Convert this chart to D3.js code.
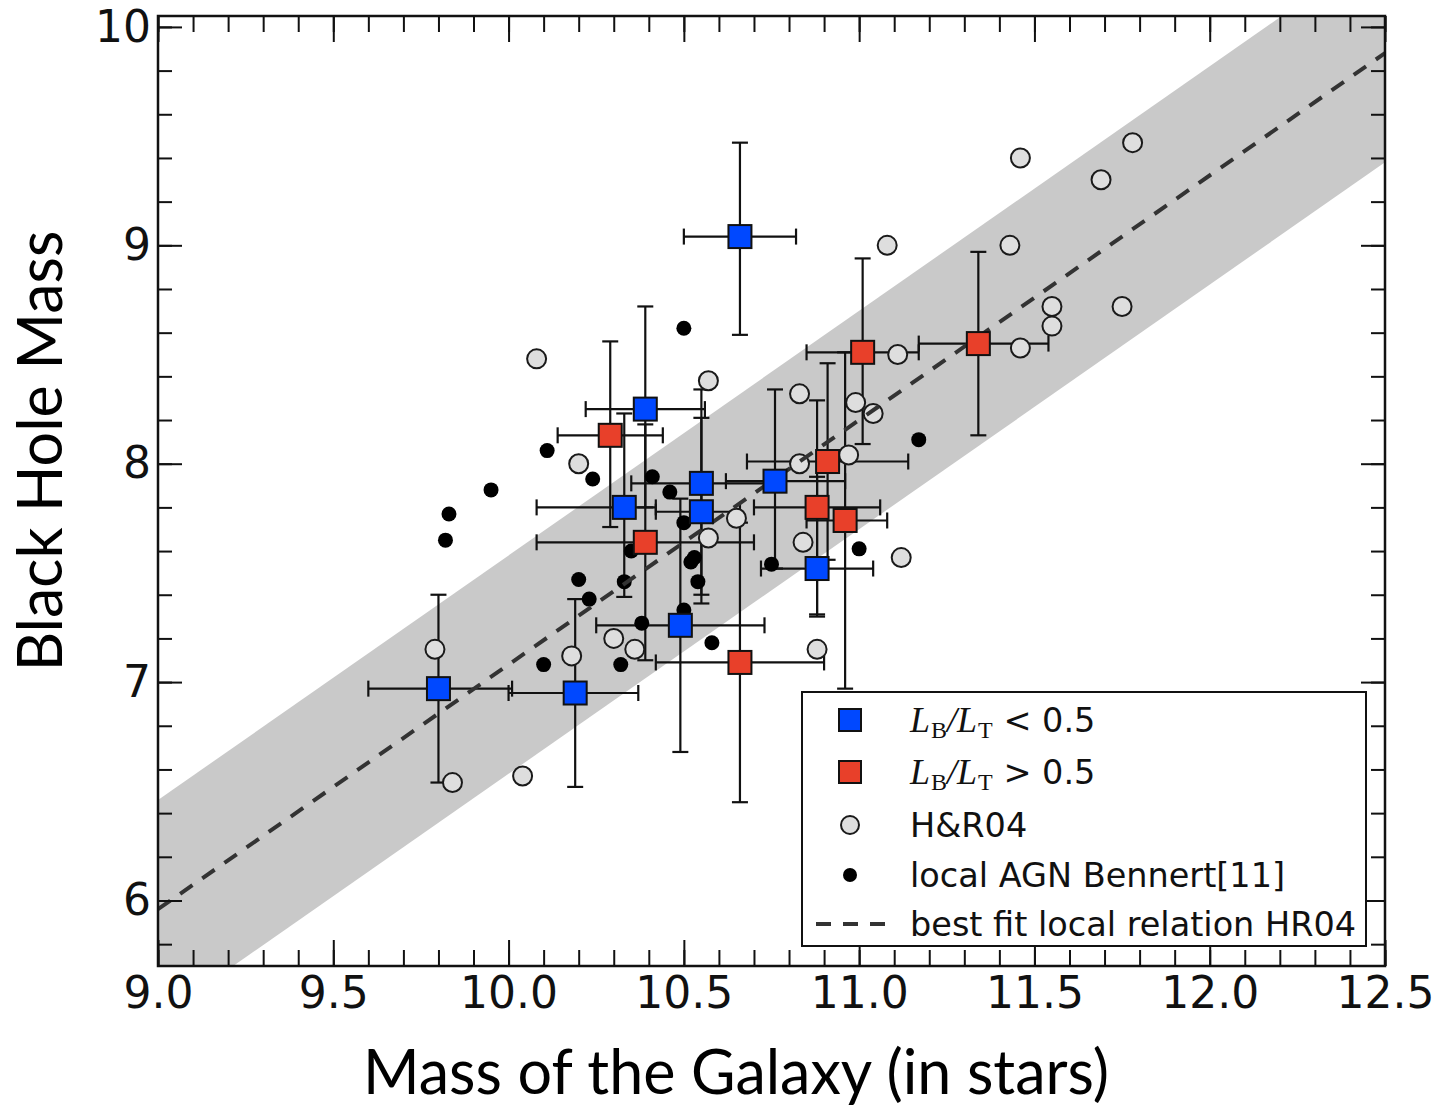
<!DOCTYPE html>
<html>
<head>
<meta charset="utf-8">
<script src="https://cdn.jsdelivr.net/npm/d3@7"></script>
<style>
  body { margin: 0; background: #fff; }
  svg { display: block; }
</style>
</head>
<body>
<svg></svg>
<script>
// bulge sample, L_B/L_T < 0.5
let blueX   = [10.66, 10.39, 10.33, 10.55, 10.55, 10.76, 10.88, 10.49, 9.80, 10.19]
let blueY   = [9.04, 8.25, 7.80, 7.91, 7.78, 7.92, 7.52, 7.26, 6.97, 6.95]
let blueXLo = [10.50, 10.22, 10.08, 10.35, 10.42, 10.62, 10.72, 10.25, 9.60, 10.00]
let blueXHi = [10.82, 10.56, 10.42, 10.74, 10.66, 10.96, 11.04, 10.73, 10.01, 10.37]
let blueYLo = [8.59, 7.80, 7.39, 7.36, 7.40, 7.52, 7.31, 6.68, 6.54, 6.52]
let blueYHi = [9.47, 8.72, 8.23, 8.34, 8.21, 8.34, 7.94, 7.84, 7.40, 7.38]

// L_B/L_T > 0.5
let redX   = [10.29, 10.39, 11.01, 11.34, 10.91, 10.88, 10.96, 10.66]
let redY   = [8.13, 7.64, 8.51, 8.55, 8.01, 7.80, 7.74, 7.09]
let redXLo = [10.14, 10.08, 10.85, 11.17, 10.68, 10.70, 10.85, 10.42]
let redXHi = [10.44, 10.70, 11.17, 11.54, 11.14, 11.06, 11.08, 10.90]
let redYLo = [7.71, 7.10, 8.09, 8.13, 7.56, 7.30, 6.97, 6.45]
let redYHi = [8.56, 8.18, 8.94, 8.97, 8.46, 8.29, 8.51, 7.73]

// H&R04
let hrX = [10.08, 10.57, 10.20, 10.65, 10.83, 10.99, 11.04, 10.97, 10.83, 10.57, 10.84, 11.12, 10.88, 10.30, 10.36,
           10.18, 9.79, 9.84, 10.04, 11.46, 11.78, 11.69, 11.08, 11.43, 11.55, 11.55, 11.75, 11.46, 11.11]
let hrY = [8.48, 8.38, 8.00, 7.75, 8.32, 8.28, 8.23, 8.04, 8.00, 7.66, 7.64, 7.57, 7.15, 7.20, 7.15,
           7.12, 7.15, 6.54, 6.57, 9.40, 9.47, 9.30, 9.00, 9.00, 8.72, 8.63, 8.72, 8.53, 8.50]

// local AGN Bennert
let agnX = [10.50, 10.11, 10.24, 9.95, 9.83, 9.82, 10.41, 10.46, 10.50, 10.35, 10.20, 10.23,
            10.33, 10.38, 10.10, 10.32, 10.53, 10.52, 10.54, 10.50, 10.58, 10.75, 11.00, 11.17]
let agnY = [8.62, 8.06, 7.93, 7.88, 7.77, 7.65, 7.94, 7.87, 7.73, 7.60, 7.47, 7.38,
            7.46, 7.27, 7.08, 7.08, 7.57, 7.55, 7.46, 7.33, 7.18, 7.54, 7.61, 8.11]

// best fit HR04: log M_BH = 8.20 + 1.12 (log M - 11), band +/- 0.5
let fitX = [9.0, 12.5]
let fitA = 8.20
let fitB = 1.12
let bandHalf = 0.5

let xTicks = [9.0, 9.5, 10.0, 10.5, 11.0, 11.5, 12.0, 12.5]
let yTicks = [6, 7, 8, 9, 10]

let legendLabels = ['H&R04', 'local AGN Bennert[11]', 'best fit local relation HR04']

let width = 1449
let height = 1109
let pLeft = 158, pRight = 1385, pTop = 16, pBottom = 966

let svg = d3.select('svg').attr('width', width).attr('height', height)

let xScale = d3.scaleLinear().domain([9.0, 12.5]).range([pLeft, pRight])
let yScale = d3.scaleLinear().domain([5.7, 10.05]).range([pBottom, pTop])

let fit = (x) => fitA + fitB * (x - 11)

svg.append('defs').append('clipPath').attr('id', 'plot')
    .append('rect').attr('x', pLeft).attr('y', pTop)
    .attr('width', pRight - pLeft).attr('height', pBottom - pTop)

let plot = svg.append('g').attr('clip-path', 'url(#plot)')

// shaded band
let bandArea = d3.area()
    .x(d => xScale(d))
    .y0(d => yScale(fit(d) - bandHalf))
    .y1(d => yScale(fit(d) + bandHalf))
plot.append('path').datum(fitX).attr('d', bandArea).attr('fill', '#c9c9c9')

let errs = (xs, ys, xl, xh, yl, yh) => xs.map((x, i) => ({x: x, y: ys[i], xl: xl[i], xh: xh[i], yl: yl[i], yh: yh[i]}))
let blue = errs(blueX, blueY, blueXLo, blueXHi, blueYLo, blueYHi)
let red = errs(redX, redY, redXLo, redXHi, redYLo, redYHi)

let drawErrors = (data) => {
    let g = plot.append('g').attr('stroke', '#111').attr('stroke-width', 2.2).attr('fill', 'none')
    let cap = 8
    data.forEach(d => {
        let cx = xScale(d.x), cy = yScale(d.y)
        g.append('line').attr('x1', xScale(d.xl)).attr('x2', xScale(d.xh)).attr('y1', cy).attr('y2', cy)
        g.append('line').attr('x1', cx).attr('x2', cx).attr('y1', yScale(d.yl)).attr('y2', yScale(d.yh))
        ;[d.xl, d.xh].forEach(v => g.append('line').attr('x1', xScale(v)).attr('x2', xScale(v)).attr('y1', cy - cap).attr('y2', cy + cap))
        ;[d.yl, d.yh].forEach(v => g.append('line').attr('y1', yScale(v)).attr('y2', yScale(v)).attr('x1', cx - cap).attr('x2', cx + cap))
    })
}
drawErrors(red)
drawErrors(blue)

// H&R04 open circles
plot.append('g').selectAll('circle').data(hrX).join('circle')
    .attr('cx', d => xScale(d)).attr('cy', (d, i) => yScale(hrY[i])).attr('r', 9.5)
    .attr('fill', '#dedede').attr('stroke', '#1a1a1a').attr('stroke-width', 2)

// local AGN
plot.append('g').selectAll('circle').data(agnX).join('circle')
    .attr('cx', d => xScale(d)).attr('cy', (d, i) => yScale(agnY[i])).attr('r', 7.5)
    .attr('fill', '#000')

// fit line
plot.append('path').datum(fitX)
    .attr('d', d3.line().x(d => xScale(d)).y(d => yScale(fit(d))))
    .attr('stroke', '#333').attr('stroke-width', 4).attr('stroke-dasharray', '15,12').attr('fill', 'none')

let sq = 23
let drawSquares = (data, color) => {
    plot.append('g').selectAll('rect').data(data).join('rect')
        .attr('x', d => xScale(d.x) - sq / 2).attr('y', d => yScale(d.y) - sq / 2)
        .attr('width', sq).attr('height', sq)
        .attr('fill', color).attr('stroke', '#111').attr('stroke-width', 2)
}
drawSquares(red, '#e8402a')
drawSquares(blue, '#0048ff')

// axes, ticks inward on all four sides
let xMinor = d3.range(9.0, 12.501, 0.1)
let yMinor = d3.range(5.8, 10.001, 0.2)
let tickFont = 'DejaVu Sans'

let styleAxis = (g) => {
    g.select('.domain').remove()
    g.selectAll('line').attr('stroke', '#111').attr('stroke-width', 2)
    g.selectAll('text').attr('font-family', tickFont).attr('font-size', 44).attr('fill', '#111')
}

svg.append('g').attr('transform', 'translate(0,' + pBottom + ')')
    .call(d3.axisBottom(xScale).tickValues(xMinor).tickSize(-16).tickFormat('')).call(styleAxis)
svg.append('g').attr('transform', 'translate(0,' + pBottom + ')')
    .call(d3.axisBottom(xScale).tickValues(xTicks).tickSize(-26).tickPadding(11).tickFormat(d3.format('.1f'))).call(styleAxis)
svg.append('g').attr('transform', 'translate(0,' + pTop + ')')
    .call(d3.axisTop(xScale).tickValues(xMinor).tickSize(-16).tickFormat('')).call(styleAxis)
svg.append('g').attr('transform', 'translate(0,' + pTop + ')')
    .call(d3.axisTop(xScale).tickValues(xTicks).tickSize(-26).tickFormat('')).call(styleAxis)

svg.append('g').attr('transform', 'translate(' + pLeft + ',0)')
    .call(d3.axisLeft(yScale).tickValues(yMinor).tickSize(-14).tickFormat('')).call(styleAxis)
svg.append('g').attr('transform', 'translate(' + pLeft + ',0)')
    .call(d3.axisLeft(yScale).tickValues(yTicks).tickSize(-24).tickPadding(7).tickFormat(d3.format('d'))).call(styleAxis)
svg.append('g').attr('transform', 'translate(' + pRight + ',0)')
    .call(d3.axisRight(yScale).tickValues(yMinor).tickSize(-14).tickFormat('')).call(styleAxis)
svg.append('g').attr('transform', 'translate(' + pRight + ',0)')
    .call(d3.axisRight(yScale).tickValues(yTicks).tickSize(-24).tickFormat('')).call(styleAxis)

svg.append('rect').attr('x', pLeft).attr('y', pTop).attr('width', pRight - pLeft).attr('height', pBottom - pTop)
    .attr('fill', 'none').attr('stroke', '#111').attr('stroke-width', 2.5)

// axis titles
svg.append('text').attr('x', 736).attr('y', 1094)
    .attr('text-anchor', 'middle').attr('font-family', 'Lato').attr('font-size', 61).attr('fill', '#000')
    .text('Mass of the Galaxy (in stars)')
svg.append('text').attr('transform', 'translate(62,451) rotate(-90)')
    .attr('text-anchor', 'middle').attr('font-family', 'Lato').attr('font-size', 61).attr('fill', '#000')
    .text('Black Hole Mass')

// legend
let lg = svg.append('g')
lg.append('rect').attr('x', 802).attr('y', 692).attr('width', 564).attr('height', 254)
    .attr('fill', '#fff').attr('stroke', '#111').attr('stroke-width', 2)
let rowY = [720, 772, 825, 875, 924]
let mx = 850, tx = 910
lg.append('rect').attr('x', mx - 11).attr('y', rowY[0] - 11).attr('width', 22).attr('height', 22)
    .attr('fill', '#0048ff').attr('stroke', '#111').attr('stroke-width', 2)
lg.append('rect').attr('x', mx - 11).attr('y', rowY[1] - 11).attr('width', 22).attr('height', 22)
    .attr('fill', '#e8402a').attr('stroke', '#111').attr('stroke-width', 2)
lg.append('circle').attr('cx', mx).attr('cy', rowY[2]).attr('r', 9)
    .attr('fill', '#dedede').attr('stroke', '#1a1a1a').attr('stroke-width', 2)
lg.append('circle').attr('cx', mx).attr('cy', rowY[3]).attr('r', 7).attr('fill', '#000')
lg.append('line').attr('x1', 816).attr('x2', 886).attr('y1', rowY[4]).attr('y2', rowY[4])
    .attr('stroke', '#333').attr('stroke-width', 4).attr('stroke-dasharray', '15,12')

let ratioRow = (y, sign) => {
    let t = lg.append('text').attr('x', tx).attr('y', y + 12).attr('font-size', 36).attr('fill', '#111')
    t.append('tspan').attr('font-family', 'Liberation Serif').attr('font-style', 'italic').text('L')
    t.append('tspan').attr('font-family', 'Liberation Serif').attr('font-size', 24).attr('dx', 1).attr('dy', 6).text('B')
    t.append('tspan').attr('font-family', 'Liberation Serif').attr('font-style', 'italic').attr('dy', -6).text('/L')
    t.append('tspan').attr('font-family', 'Liberation Serif').attr('font-size', 24).attr('dx', 1).attr('dy', 6).text('T')
    t.append('tspan').attr('font-family', 'DejaVu Sans').attr('font-size', 33.5).attr('dy', -6).text(' ' + sign + ' 0.5')
}
ratioRow(rowY[0], '<')
ratioRow(rowY[1], '>')
legendLabels.forEach((s, i) => {
    lg.append('text').attr('x', tx).attr('y', rowY[i + 2] + 12)
        .attr('font-family', 'DejaVu Sans').attr('font-size', 33.5).attr('fill', '#111').text(s)
})
</script>
</body>
</html>
